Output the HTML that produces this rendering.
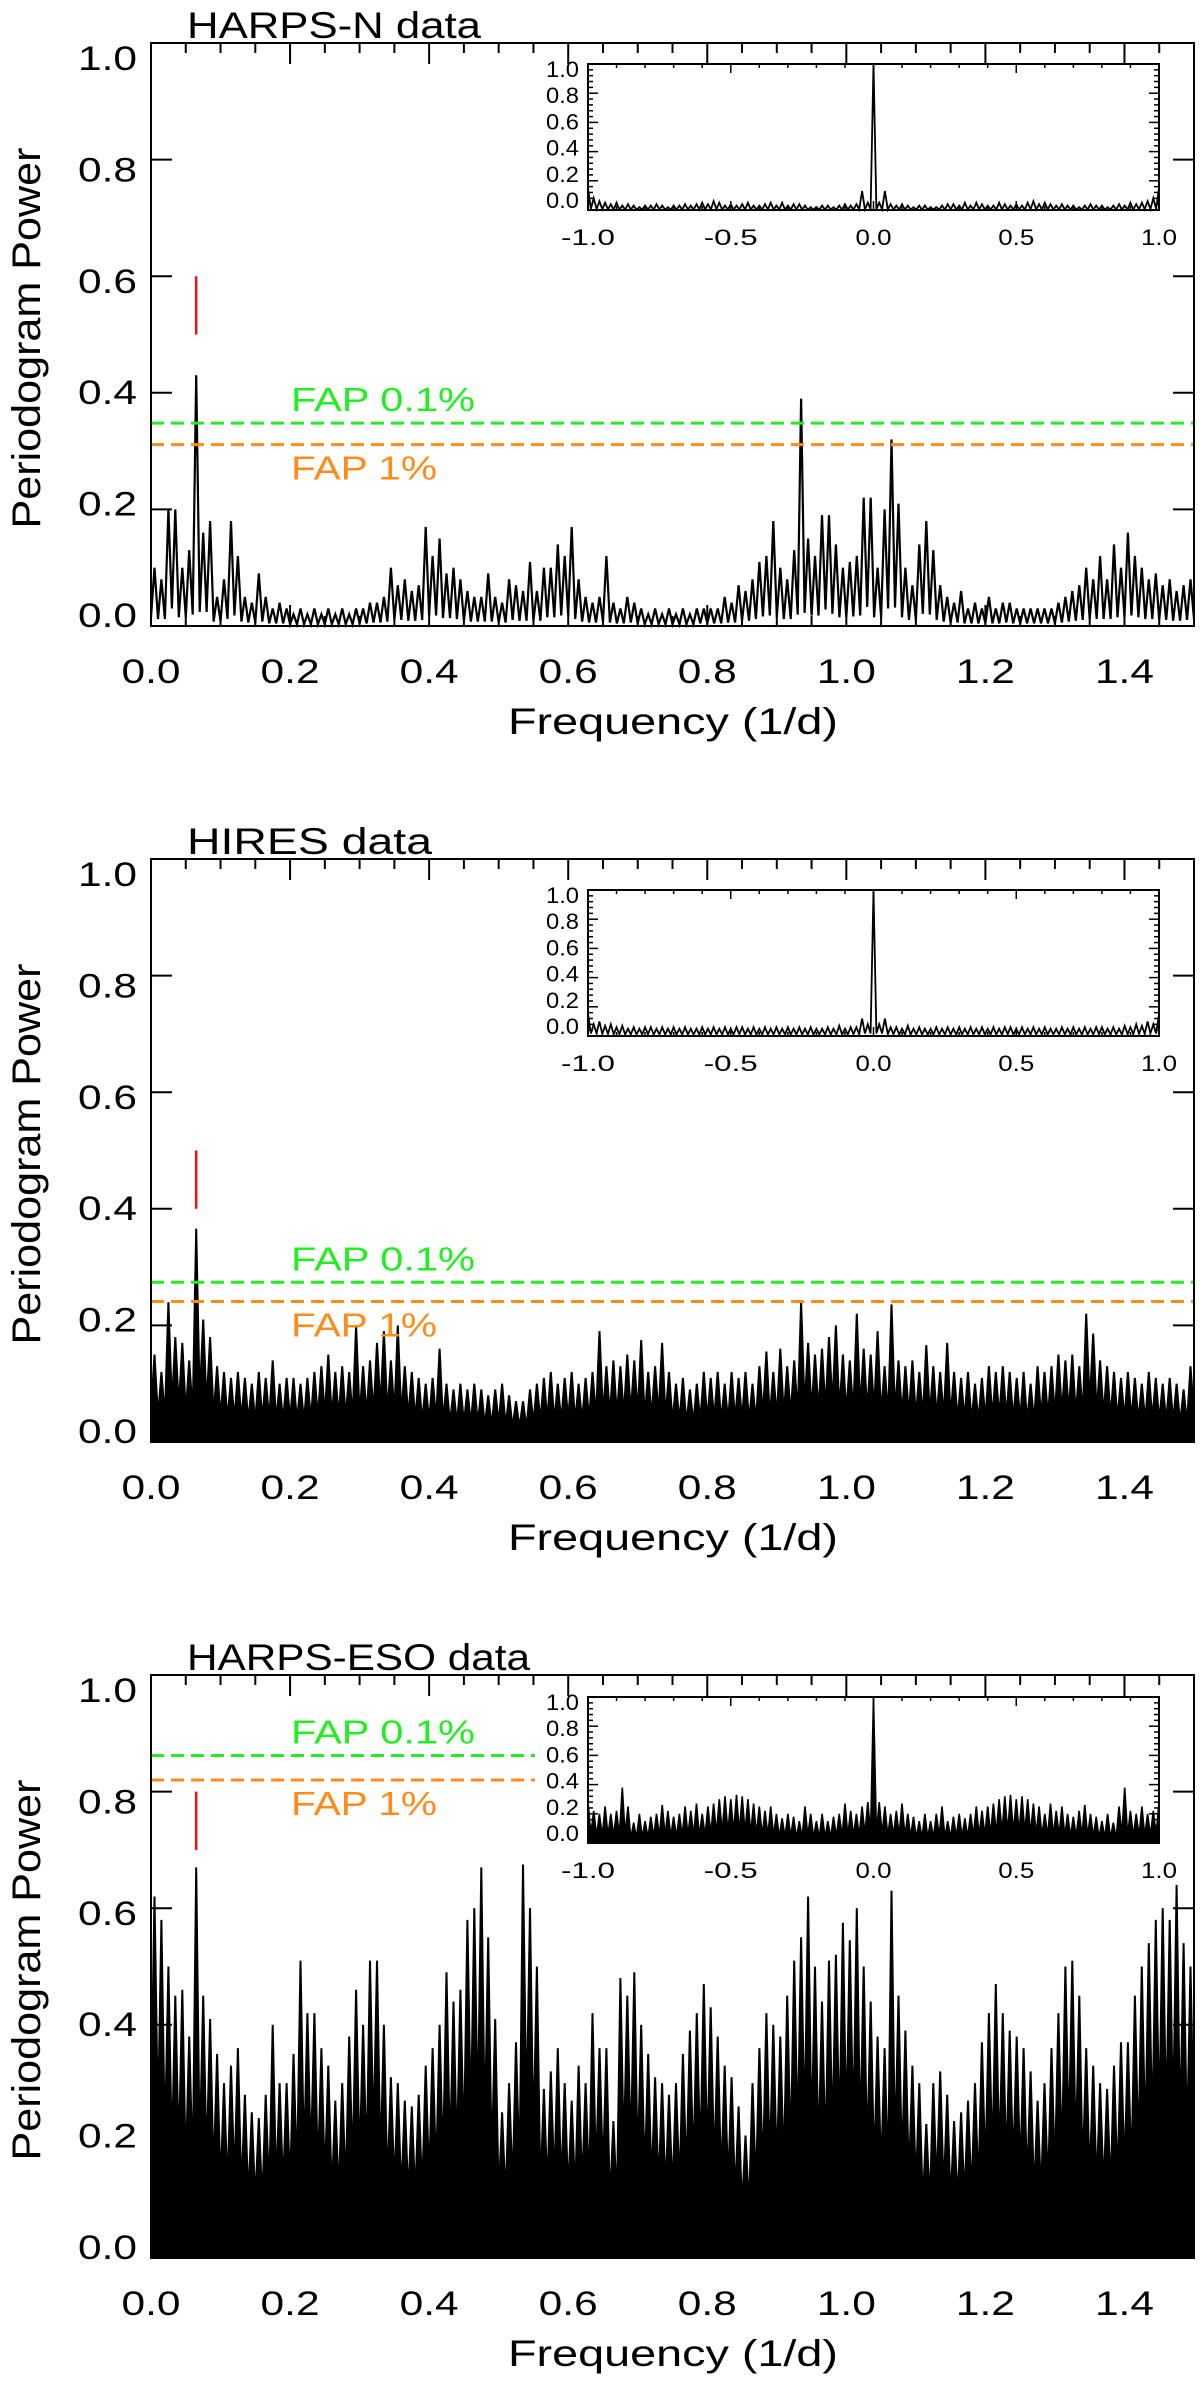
<!DOCTYPE html>
<html><head><meta charset="utf-8"><title>Periodograms</title>
<style>
html,body{margin:0;padding:0;background:#fff;}
svg{display:block;font-family:"Liberation Sans",sans-serif;}
</style></head>
<body>
<svg id="fig" width="1200" height="2386" viewBox="0 0 1200 2386" xmlns="http://www.w3.org/2000/svg"></svg>
<script>
// ---- data (frequency bins of 0.01 1/d, peak power per bin) ----
const panelTitles = ["HARPS-N data", "HIRES data", "HARPS-ESO data"];
const xTickLabels = ["0.0","0.2","0.4","0.6","0.8","1.0","1.2","1.4"];
const yTickLabels = ["0.0","0.2","0.4","0.6","0.8","1.0"];
const insetXTickLabels = ["-1.0","-0.5","0.0","0.5","1.0"];
const faps01 = [0.348, 0.274, 0.862];
const faps1 = [0.311, 0.241, 0.82];
const markerFreq = [0.065, 0.065, 0.065];
const markerLow = [0.5, 0.4, 0.7];
const markerHigh = [0.6, 0.5, 0.8];
const harpsNPower = [0.1,0.08,0.2,0.2,0.1,0.13,0.43,0.16,0.18,0.05,
0.08,0.18,0.12,0.05,0.04,0.09,0.05,0.03,0.04,0.03,
0.02,0.03,0.02,0.03,0.02,0.03,0.02,0.03,0.02,0.03,
0.03,0.04,0.04,0.05,0.1,0.07,0.08,0.06,0.07,0.17,
0.12,0.15,0.09,0.1,0.08,0.06,0.05,0.05,0.09,0.05,
0.04,0.08,0.07,0.06,0.11,0.06,0.1,0.1,0.14,0.12,
0.17,0.08,0.05,0.04,0.05,0.12,0.04,0.03,0.05,0.04,
0.03,0.02,0.03,0.02,0.03,0.02,0.03,0.02,0.03,0.03,
0.03,0.03,0.05,0.04,0.07,0.06,0.08,0.11,0.12,0.18,
0.1,0.08,0.13,0.39,0.15,0.12,0.19,0.19,0.14,0.1,
0.11,0.12,0.22,0.22,0.1,0.2,0.32,0.21,0.1,0.07,
0.14,0.18,0.13,0.07,0.05,0.04,0.06,0.03,0.04,0.03,
0.05,0.03,0.04,0.04,0.03,0.03,0.03,0.03,0.03,0.03,
0.04,0.05,0.06,0.07,0.1,0.08,0.12,0.08,0.14,0.1,
0.16,0.12,0.1,0.08,0.09,0.07,0.08,0.06,0.07,0.08];
const hiresPower = [0.15,0.12,0.24,0.18,0.17,0.14,0.366,0.21,0.18,0.13,
0.12,0.11,0.12,0.11,0.1,0.12,0.11,0.14,0.1,0.11,
0.11,0.1,0.11,0.12,0.13,0.15,0.12,0.13,0.12,0.2,
0.13,0.14,0.17,0.19,0.14,0.2,0.13,0.12,0.11,0.1,
0.11,0.16,0.1,0.09,0.1,0.09,0.1,0.09,0.08,0.09,
0.1,0.08,0.07,0.07,0.09,0.1,0.11,0.12,0.1,0.11,
0.12,0.1,0.11,0.12,0.19,0.13,0.14,0.13,0.15,0.14,
0.175,0.12,0.13,0.17,0.12,0.1,0.11,0.09,0.1,0.12,
0.11,0.12,0.1,0.12,0.11,0.12,0.1,0.13,0.155,0.12,
0.16,0.13,0.14,0.24,0.17,0.15,0.16,0.18,0.2,0.15,
0.14,0.22,0.16,0.15,0.19,0.13,0.236,0.14,0.13,0.14,
0.12,0.166,0.13,0.12,0.17,0.12,0.11,0.12,0.1,0.11,
0.13,0.12,0.13,0.12,0.11,0.12,0.1,0.13,0.12,0.13,
0.15,0.14,0.15,0.13,0.22,0.186,0.14,0.13,0.12,0.11,
0.12,0.11,0.1,0.12,0.11,0.1,0.11,0.1,0.09,0.13];
const harpsEsoPower = [0.62,0.58,0.5,0.45,0.46,0.38,0.67,0.45,0.41,0.35,
0.3,0.33,0.36,0.28,0.25,0.24,0.28,0.4,0.3,0.3,
0.35,0.51,0.42,0.42,0.36,0.33,0.27,0.3,0.38,0.46,
0.4,0.51,0.51,0.4,0.31,0.3,0.27,0.26,0.28,0.33,
0.36,0.4,0.49,0.44,0.46,0.58,0.6,0.67,0.55,0.41,
0.25,0.3,0.37,0.675,0.6,0.5,0.29,0.32,0.36,0.3,
0.27,0.33,0.3,0.42,0.36,0.36,0.235,0.48,0.45,0.49,
0.4,0.35,0.31,0.3,0.28,0.3,0.35,0.39,0.42,0.47,
0.43,0.38,0.33,0.31,0.26,0.21,0.3,0.36,0.42,0.4,
0.38,0.45,0.51,0.55,0.62,0.5,0.44,0.51,0.52,0.575,
0.545,0.6,0.5,0.44,0.38,0.36,0.63,0.45,0.39,0.33,
0.3,0.23,0.3,0.32,0.28,0.235,0.25,0.27,0.3,0.37,
0.42,0.47,0.42,0.39,0.38,0.36,0.32,0.27,0.3,0.36,
0.42,0.5,0.51,0.45,0.36,0.33,0.3,0.29,0.33,0.37,
0.37,0.45,0.5,0.54,0.58,0.6,0.58,0.64,0.54,0.5];
// window functions (positive lag side, step 0.02; mirrored)
const window1 = [1.0,0.05,0.13,0.04,0.03,0.04,0.03,0.02,0.03,0.03,
0.02,0.02,0.03,0.04,0.04,0.03,0.05,0.03,0.05,0.04,
0.03,0.03,0.05,0.04,0.03,0.04,0.03,0.05,0.06,0.04,
0.05,0.04,0.03,0.04,0.03,0.03,0.02,0.03,0.04,0.03,
0.03,0.02,0.03,0.04,0.03,0.05,0.04,0.05,0.06,0.08,0.15];
const window2 = [1.0,0.08,0.12,0.06,0.06,0.05,0.07,0.05,0.06,0.05,
0.05,0.06,0.05,0.06,0.05,0.06,0.05,0.06,0.05,0.06,
0.05,0.06,0.05,0.06,0.06,0.05,0.06,0.05,0.06,0.05,
0.06,0.05,0.05,0.06,0.05,0.06,0.05,0.06,0.05,0.06,
0.06,0.05,0.06,0.05,0.07,0.06,0.08,0.07,0.1,0.08,0.15];
const window3 = [1.0,0.28,0.25,0.2,0.22,0.27,0.2,0.18,0.15,0.2,
0.15,0.2,0.25,0.15,0.18,0.2,0.17,0.2,0.25,0.22,
0.25,0.27,0.3,0.32,0.33,0.3,0.32,0.3,0.27,0.25,
0.2,0.27,0.22,0.25,0.2,0.18,0.22,0.26,0.2,0.18,
0.15,0.2,0.14,0.25,0.38,0.22,0.2,0.25,0.2,0.22,0.28];

const powers = [harpsNPower, hiresPower, harpsEsoPower];
const windows = [window1, window2, window3];
const lowFrac = [0.15, 0.35, 0.4];
const fills = [false, true, true];
const panelTops = [43, 859, 1675];
const insetTops = [64, 890, 1697];
const insetBottomOffset = 146;

const NS = "http://www.w3.org/2000/svg";
const svg = document.getElementById("fig");
function mk(tag, attrs, parent) {
  const e = document.createElementNS(NS, tag);
  for (const k in attrs) e.setAttribute(k, attrs[k]);
  (parent || svg).appendChild(e);
  return e;
}
function txt(parent, x, y, s, size, anchor, fill, len) {
  const t = mk("text", {x: x, y: y, "font-size": size, "text-anchor": anchor, fill: fill || "#000"}, parent);
  if (len) { t.setAttribute("textLength", len); t.setAttribute("lengthAdjust", "spacingAndGlyphs"); }
  t.textContent = s;
  return t;
}

const L = 151, R = 1194, H = 583;
for (let p = 0; p < 3; p++) {
  const top = panelTops[p], bot = top + H;
  const xS = f => L + (f / 1.5) * (R - L);
  const yS = v => bot - v * H;
  const g = mk("g", {});
  
  

  // title
  const t = txt(g, 187, top - 5, panelTitles[p], 37, "start", "#000", panelTitles[p].length * 24.5);
  
  

  // series
  const arr = powers[p];
  const n = arr.length, bw = 0.01;
  let pts = [];
  pts.push([xS(0), yS(arr[0] * lowFrac[p])]);
  for (let i = 0; i < n; i++) {
    const fc = (i + 0.5) * bw;
    pts.push([xS(fc), yS(arr[i])]);
    const nxt = i + 1 < n ? arr[i + 1] : arr[i];
    pts.push([xS((i + 1) * bw), yS(Math.min(arr[i], nxt) * lowFrac[p])]);
  }
  let d = "M" + pts.map(q => q[0].toFixed(1) + "," + q[1].toFixed(1)).join("L");
  if (fills[p]) {
    const dp = d + "L" + xS(1.5).toFixed(1) + "," + bot + "L" + L + "," + bot + "Z";
    const area = mk("path", {d: dp, fill: "#000", stroke: "#000", "stroke-width": 2, "stroke-linejoin": "miter"}, g);
    
    
  } else {
    const line = mk("path", {d: d, fill: "none", stroke: "#000", "stroke-width": 2.2}, g);
    
    
  }

  // FAP lines
  const fapEnd = p === 2 ? 535 : R;
  const gl = mk("line", {x1: L, x2: fapEnd, y1: yS(faps01[p]), y2: yS(faps01[p]), stroke: "#22ee22", "stroke-width": 3, "stroke-dasharray": "13 7"}, g);
  
  
  const ol = mk("line", {x1: L, x2: fapEnd, y1: yS(faps1[p]), y2: yS(faps1[p]), stroke: "#ff8c1a", "stroke-width": 3, "stroke-dasharray": "13 7"}, g);
  
  
  const gt = txt(g, 291, yS(faps01[p]) - 12, "FAP 0.1%", 33, "start", "#22ee22", 184);
  
  
  const ot = txt(g, 291, yS(faps1[p]) + 35, "FAP 1%", 33, "start", "#ff8c1a", 146);
  
  

  // red marker
  const rm = mk("line", {x1: xS(markerFreq[p]), x2: xS(markerFreq[p]), y1: yS(markerLow[p]), y2: yS(markerHigh[p]), stroke: "#ee1111", "stroke-width": 2.5}, g);
  
  

  // axes frame
  const fr = mk("rect", {x: L, y: top, width: R - L, height: H, fill: "none", stroke: "#000", "stroke-width": 2}, g);
  
  
  // x ticks
  for (let k = 0; k <= 30; k++) {
    const f = k * 0.05, x = xS(f);
    const len = (k % 4 === 0) ? 21 : 10;
    mk("line", {x1: x, x2: x, y1: bot, y2: bot - len, stroke: "#000", "stroke-width": 2}, g);
    mk("line", {x1: x, x2: x, y1: top, y2: top + len, stroke: "#000", "stroke-width": 2}, g);
  }
  xTickLabels.forEach((s, i) => {
    const tl = txt(g, xS(i * 0.2), top + 640, s, 34, "middle", "#000", 59);
    
    
  });
  // y ticks
  for (let k = 0; k <= 5; k++) {
    const y = yS(k * 0.2);
    mk("line", {x1: L, x2: L + 21, y1: y, y2: y, stroke: "#000", "stroke-width": 2}, g);
    mk("line", {x1: R, x2: R - 21, y1: y, y2: y, stroke: "#000", "stroke-width": 2}, g);
  }
  yTickLabels.forEach((s, i) => {
    const tl = txt(g, 137, top + 584 - i * 111.4, s, 34, "end", "#000", 59);
    
    
  });
  const xt = txt(g, 673, top + 691, "Frequency (1/d)", 37, "middle", "#000", 330);
  
  
  const yt = txt(g, 0, 0, "Periodogram Power", 40, "middle", "#000", 381);
  yt.setAttribute("transform", "translate(40," + (top + 295) + ") rotate(-90)");
  
  

  // inset (window function)
  const iL = 588, iR = 1159, iT = insetTops[p], iB = iT + insetBottomOffset;
  const ix = f => iL + (f + 1) / 2 * (iR - iL);
  const iy = v => iB - v * (iB - iT);
  const ig = mk("g", {}, g);
  
  
  mk("rect", {x: iL, y: iT, width: iR - iL, height: iB - iT, fill: "#fff", stroke: "none"}, ig);
  const w = windows[p];
  const m = w.length - 1, st = 0.02;
  const vals = [];
  for (let i = m; i >= 1; i--) vals.push([-i * st, w[i]]);
  for (let i = 0; i <= m; i++) vals.push([i * st, w[i]]);
  let ip = [];
  for (let j = 0; j < vals.length; j++) {
    ip.push([ix(vals[j][0]), iy(vals[j][1])]);
    if (j + 1 < vals.length) {
      const mid = (vals[j][0] + vals[j + 1][0]) / 2;
      ip.push([ix(mid), iy(Math.min(vals[j][1], vals[j + 1][1]) * lowFrac[p] * 0.6)]);
    }
  }
  let id = "M" + ip.map(q => q[0].toFixed(1) + "," + q[1].toFixed(1)).join("L");
  if (fills[p] && p === 2) {
    const ia = mk("path", {d: id + "L" + iR + "," + iB + "L" + iL + "," + iB + "Z", fill: "#000", stroke: "#000", "stroke-width": 1.6}, ig);
    
    
  } else {
    const il = mk("path", {d: id, fill: "none", stroke: "#000", "stroke-width": 1.8}, ig);
    
    
  }
  mk("rect", {x: iL, y: iT, width: iR - iL, height: iB - iT, fill: "none", stroke: "#000", "stroke-width": 2}, ig);
  for (let k = 0; k <= 20; k++) {
    const x = ix(-1 + k * 0.1), len = (k % 5 === 0) ? 9 : 4;
    mk("line", {x1: x, x2: x, y1: iB, y2: iB - len, stroke: "#000", "stroke-width": 1.5}, ig);
    mk("line", {x1: x, x2: x, y1: iT, y2: iT + len, stroke: "#000", "stroke-width": 1.5}, ig);
  }
  for (let k = 0; k <= 25; k++) {
    const y = iy(k * 0.04), len = (k % 5 === 0) ? 10 : 5;
    mk("line", {x1: iL, x2: iL + len, y1: y, y2: y, stroke: "#000", "stroke-width": 1.5}, ig);
    mk("line", {x1: iR, x2: iR - len, y1: y, y2: y, stroke: "#000", "stroke-width": 1.5}, ig);
  }
  insetXTickLabels.forEach((s, i) => {
    const tl = txt(ig, ix(-1 + i * 0.5), iT + 181, s, 22, "middle", "#000", s.length === 4 ? 54 : 36);
    
    
  });
  yTickLabels.forEach((s, i) => {
    const tl = txt(ig, 579, iT + 144 - i * 26.2, s, 22, "end", "#000", 33);
    
    
  });
}
</script>
</body></html>
